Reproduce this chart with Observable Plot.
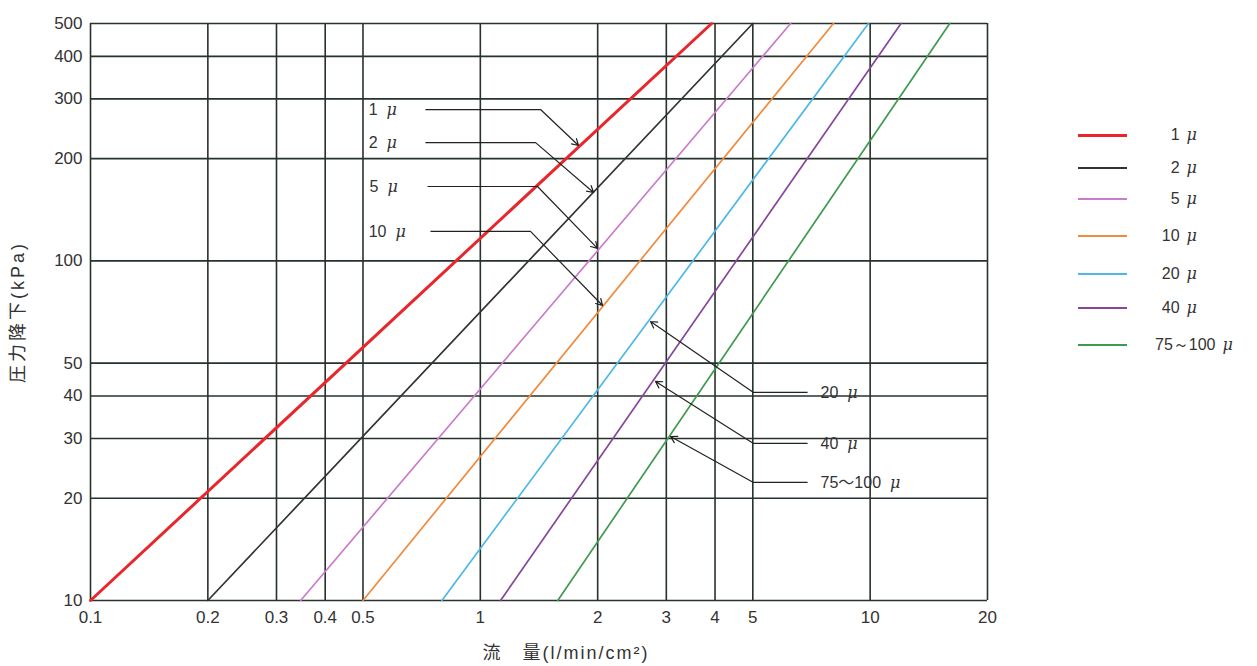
<!DOCTYPE html>
<html>
<head>
<meta charset="utf-8">
<script src="https://cdn.jsdelivr.net/npm/d3@7"></script>
<script src="https://cdn.jsdelivr.net/npm/@observablehq/plot@0.6"></script>
<style>
  html, body { margin: 0; padding: 0; background: #fff; }
  #wrap { position: relative; width: 1257px; height: 666px; overflow: hidden; }
  #legend { position: absolute; left: 1078px; top: 0; font-family: "Liberation Sans", Arial, sans-serif; font-size: 16px; color: #333; }
  .row { position: absolute; left: 0; white-space: nowrap; height: 20px; }
  .sw { position: absolute; left: 0; width: 49px; }
  .lb { position: absolute; left: 77px; min-width: 42px; text-align: right; line-height: 20px; }
  .mu { font-style: italic; font-family: "DejaVu Serif", serif; margin-left: 7px; }
</style>
</head>
<body>
<div id="wrap"></div>
<script>
// ---- data ----
const series = ["1 μ", "2 μ", "5 μ", "10 μ", "20 μ", "40 μ", "75～100 μ"];
const colors = ["#e8262b", "#333333", "#c97ccb", "#f08a3c", "#4db8e6", "#86479a", "#3e9a4c"];
const flowStart = [0.1, 0.2, 0.346, 0.5, 0.797, 1.127, 1.58];
const flowEnd = [3.92, 5.0, 6.25, 8.05, 9.9, 12.0, 16.0];
const dropStart = [10, 10, 10, 10, 10, 10, 10];
const dropEnd = [500, 500, 500, 500, 500, 500, 500];

const xTicks = [0.1, 0.2, 0.3, 0.4, 0.5, 1, 2, 3, 4, 5, 10, 20];
const yTicks = [10, 20, 30, 40, 50, 100, 200, 300, 400, 500];
const xLabel = "流　量(l/min/cm²)";
const yLabel = "圧力降下(kPa)";

// leader annotations (data units)
const annLabels = ["1 μ", "2 μ", "5 μ", "10 μ", "20 μ", "40 μ", "75～100 μ"];
const annTextX = [0.517, 0.517, 0.52, 0.517, 7.46, 7.46, 7.46];
const annTextY = [279, 223, 165.6, 122.1, 41, 29, 22.26];
const annLineX = [0.723, 0.723, 0.732, 0.745, 6.91, 6.91, 6.91];
const annElbowX = [1.427, 1.386, 1.402, 1.345, 5.02, 5.02, 5.02];
const annTipX = [1.786, 1.952, 1.998, 2.058, 2.733, 2.815, 3.076];
const annTipY = [218.7, 159, 108.8, 73.9, 66.3, 44.15, 30.4];

// ---- tables ----
const lineRows = series.flatMap((s, i) => [
  {series: s, flow: flowStart[i], drop: dropStart[i]},
  {series: s, flow: flowEnd[i], drop: dropEnd[i]}
]);
const ann = annLabels.map((label, i) => ({
  label, tx: annTextX[i], ty: annTextY[i], lx: annLineX[i], ex: annElbowX[i], tipx: annTipX[i], tipy: annTipY[i]
}));

const gridColor = "#26322b";
const font = '"Liberation Sans", "Noto Sans CJK JP", Arial, sans-serif';

const chart = Plot.plot({
  width: 1257,
  height: 666,
  marginTop: 23,
  marginBottom: 66,
  marginLeft: 90,
  marginRight: 270,
  style: {fontFamily: font, fontSize: "17px", color: "#333", background: "#fff"},
  x: {type: "log", domain: [0.1, 20]},
  y: {type: "log", domain: [10, 500]},
  color: {domain: series, range: colors},
  marks: [
    Plot.ruleX(xTicks, {stroke: gridColor, strokeWidth: 1.6}),
    Plot.ruleY(yTicks, {stroke: gridColor, strokeWidth: 1.6}),
    Plot.axisX({ticks: xTicks, tickSize: 0, tickPadding: 10, tickFormat: d => String(d), label: null, fontSize: 17}),
    Plot.axisY({ticks: yTicks, tickSize: 0, tickPadding: 8, tickFormat: d => String(d), label: null, fontSize: 17}),
    Plot.line(lineRows.filter(d => d.series !== series[0]), {x: "flow", y: "drop", z: "series", stroke: "series", strokeWidth: 1.7}),
    Plot.line(lineRows.filter(d => d.series === series[0]), {x: "flow", y: "drop", z: "series", stroke: "series", strokeWidth: 3}),
    Plot.link(ann, {x1: "lx", y1: "ty", x2: "ex", y2: "ty", stroke: "#222", strokeWidth: 1.2}),
    Plot.arrow(ann, {x1: "ex", y1: "ty", x2: "tipx", y2: "tipy", stroke: "#222", strokeWidth: 1.2, headLength: 9}),
    Plot.text(ann, {x: "tx", y: "ty", text: "label", textAnchor: "start", fontSize: 16, fill: "#333"}),
    Plot.text([yLabel], {frameAnchor: "left", textAnchor: "middle", lineAnchor: "middle", rotate: -90, dx: -72, fontSize: 18, fill: "#333"}),
    Plot.text([xLabel], {frameAnchor: "bottom", textAnchor: "middle", lineAnchor: "middle", dx: 27, dy: 53, fontSize: 18, fill: "#333"})
  ]
});
document.getElementById("wrap").appendChild(chart);

// styling tweaks: letter spacing of axis titles, italic μ in annotations
d3.select(chart).selectAll("text").each(function () {
  const t = this.textContent;
  if (t === xLabel) this.style.letterSpacing = "2px";
  else if (t === yLabel) this.style.letterSpacing = "3px";
  else if (annLabels.includes(t) && !this.querySelector("tspan")) {
    const parts = t.split("μ");
    this.textContent = "";
    d3.select(this).append("tspan").text(parts[0].trimEnd());
    d3.select(this).append("tspan").attr("dx", 9).style("font-style", "italic").style("font-family", '"DejaVu Serif", serif').text("μ");
  }
});

// legend
const legendY = [135, 168, 199, 236, 274, 308, 345];
const legend = document.createElement("div");
legend.id = "legend";
series.forEach((s, i) => {
  const row = document.createElement("div");
  row.className = "row";
  row.style.top = (legendY[i] - 10) + "px";
  const sw = document.createElement("div");
  sw.className = "sw";
  const w = i === 0 ? 3 : 1.7;
  sw.style.height = w + "px";
  sw.style.top = (10 - w / 2) + "px";
  sw.style.background = colors[i];
  const lb = document.createElement("div");
  lb.className = "lb";
  const parts = s.split("μ");
  lb.append(parts[0].trimEnd());
  const mu = document.createElement("span");
  mu.className = "mu";
  mu.textContent = "μ";
  lb.append(mu);
  row.append(sw, lb);
  legend.append(row);
});
document.getElementById("wrap").appendChild(legend);
</script>
</body>
</html>
